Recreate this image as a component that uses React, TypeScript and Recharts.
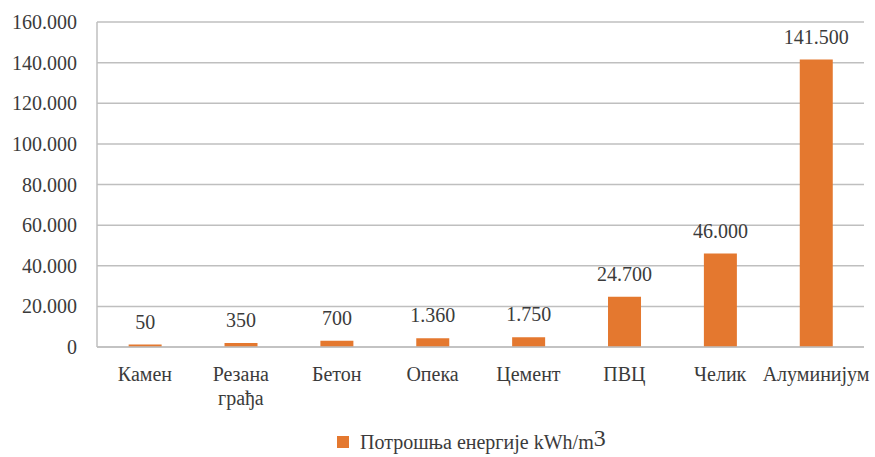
import React from 'react';
import { BarChart, Bar, XAxis, YAxis, CartesianGrid, LabelList, Legend } from 'recharts';

const categories = ['Камен', 'Резана\nграђа', 'Бетон', 'Опека', 'Цемент', 'ПВЦ', 'Челик', 'Алуминијум'];
// bar heights as drawn in the picture
const energy = [1200, 2000, 3100, 4300, 4800, 24700, 46000, 141500];
// value labels as printed above the bars
const valueLabels = ['50', '350', '700', '1.360', '1.750', '24.700', '46.000', '141.500'];
const yTicks = [0, 20000, 40000, 60000, 80000, 100000, 120000, 140000, 160000];

const data = categories.map((name, i) => ({ name, energy: energy[i], label: valueLabels[i] }));

const FONT = '"Liberation Serif", "Times New Roman", serif';
const TEXT = '#3b3b3b';
const GRID = '#bfbfbf';
const ORANGE = '#E4782F';

const fmt = (v: number) => (v === 0 ? '0' : v.toLocaleString('de-DE'));

const XTick = (props: any) => {
  const { x, y, payload } = props;
  const lines = String(payload.value).split('\n');
  return (
    <text x={x} y={y + 32} textAnchor="middle" fill={TEXT} style={{ fontFamily: FONT, fontSize: 20 }}>
      {lines.map((l, i) => (
        <tspan key={i} x={x} dy={i === 0 ? 0 : 24}>{l}</tspan>
      ))}
    </text>
  );
};

const LegendContent = () => (
  <svg width={875} height={34} style={{ display: 'block', overflow: 'visible' }}>
    <rect x={337} y={13} width={12} height={12} fill={ORANGE} />
    <text x={360} y={26} fill={TEXT} style={{ fontFamily: FONT, fontSize: 20 }}>
      Потрошња енергије kWh/m<tspan style={{ fontSize: 24 }} dy={-3}>3</tspan>
    </text>
  </svg>
);

const App: React.FC = () => {
  return (
    <div style={{ position: 'absolute', left: 0, top: 0, width: 875, height: 457, background: '#fff', fontFamily: FONT }}>
      <BarChart
        width={875}
        height={457}
        data={data}
        margin={{ top: 22, right: 11, bottom: 0, left: 0 }}
        barCategoryGap="33%"
        style={{ fontFamily: FONT }}
      >
        <CartesianGrid vertical={false} stroke={GRID} strokeWidth={1.5} />
        <XAxis
          dataKey="name"
          interval={0}
          height={76}
          tickLine={false}
          tickSize={0}
          axisLine={{ stroke: GRID, strokeWidth: 1.5 }}
          tick={<XTick />}
        />
        <YAxis
          width={97}
          domain={[0, 160000]}
          ticks={yTicks}
          tickFormatter={fmt}
          tickLine={false}
          tickMargin={14}
          axisLine={{ stroke: GRID, strokeWidth: 1.5 }}
          tick={{ fill: TEXT, fontSize: 20, style: { fontFamily: FONT } }}
        />
        <Legend verticalAlign="bottom" height={34} content={<LegendContent />} />
        <Bar dataKey="energy" fill={ORANGE} isAnimationActive={false}>
          <LabelList
            dataKey="label"
            position="top"
            offset={16}
            fill={TEXT}
            fontSize={20}
            style={{ fontFamily: FONT }}
          />
        </Bar>
      </BarChart>
    </div>
  );
};

export default App;
